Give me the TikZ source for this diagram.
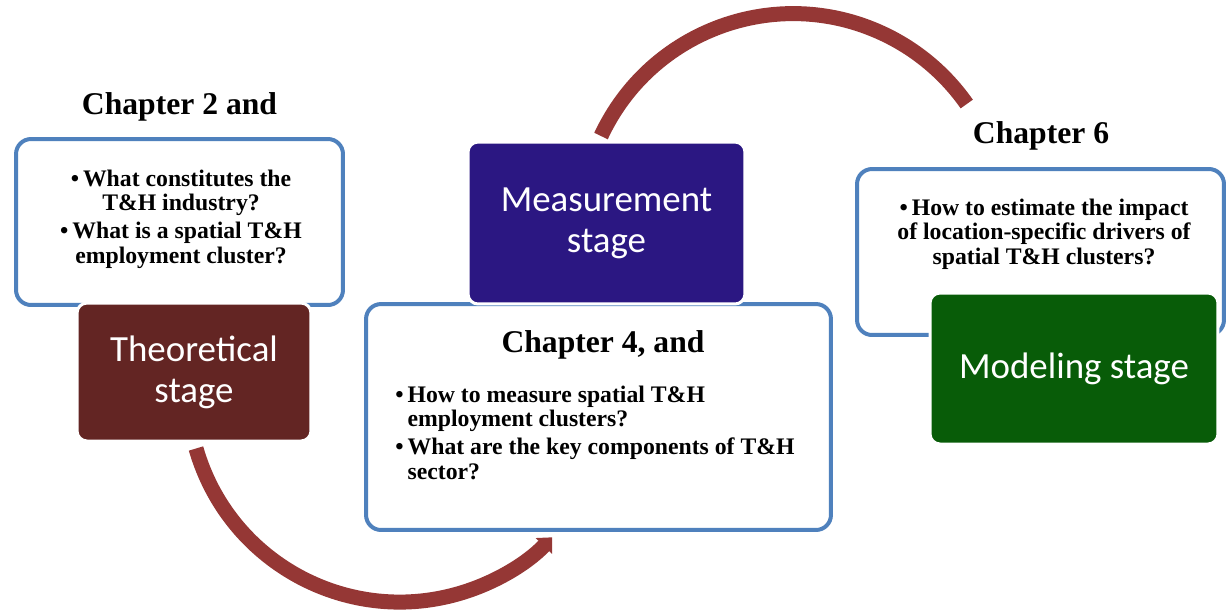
\documentclass[tikz,border=0pt]{standalone}
\usepackage{fontspec}
\setmainfont{Liberation Serif}
\newfontfamily\stagefont{Carlito}
\usetikzlibrary{arrows.meta,positioning,backgrounds}

\definecolor{qblue}{HTML}{4F81BD}
\definecolor{cycred}{HTML}{953735}
\definecolor{theored}{HTML}{632523}
\definecolor{measblue}{HTML}{2B1782}
\definecolor{modgreen}{HTML}{085C08}

\begin{document}
\begin{tikzpicture}[x=0.02cm, y=-0.02cm,
    qbox/.style={draw=qblue, line width=0.08cm, fill=white, rounded corners=0.3cm},
    stagebox/.style={draw=white, line width=0.06cm, rounded corners=0.2cm, text=white,
      font=\stagefont\fontsize{21}{23.2}\selectfont, align=center},
    chap/.style={font=\bfseries\fontsize{18}{21}\selectfont, inner sep=0pt, anchor=base},
    qtext/.style={font=\bfseries\fontsize{13.5}{13.9}\selectfont, inner sep=0pt, anchor=north},
    cyc/.style={draw=cycred, line width=0.3cm}]
  \useasboundingbox (0,0) rectangle (1230,610);

  %% question boxes
  \node[qbox, minimum width=6.54cm, minimum height=3.32cm] (q2) at (179.5,222) {};
  \node[qbox, minimum width=9.30cm, minimum height=4.52cm] (q4) at (598.5,417) {};
  \node[qbox, minimum width=7.34cm, minimum height=3.32cm] (q6) at (1040.5,252) {};

  %% stage boxes, drawn over the question boxes
  \node[stagebox, fill=theored, minimum width=4.68cm, minimum height=2.76cm] (theo) at (194,372) {Theoretical\\stage};
  \node[stagebox, fill=measblue, minimum width=5.54cm, minimum height=3.24cm] (meas) at (606.5,223) {Measurement\\stage};
  \node[stagebox, fill=modgreen, minimum width=5.76cm, minimum height=3.02cm] (model) at (1074,368.5) {Modeling stage};

  %% chapter headings
  \node[chap] (c2) at (179.5,114) {Chapter 2 and};
  \node[chap] (c4) at (603,352) {Chapter 4, and};
  \node[chap] (c6) at (1041,143) {Chapter 6};

  %% questions
  \node[qtext] (t2) at (181,169) {\begin{tabular}{@{}c@{}}
      \textbullet\,What constitutes the\\ T\&H industry?\\[2pt]
      \textbullet\,What is a spatial T\&H\\ employment cluster?\end{tabular}};
  \node[qtext, anchor=north west] (t4) at (395,385) {\begin{tabular}{@{}l@{\,}l@{}}
      \textbullet & How to measure spatial T\&H\\ & employment clusters?\\[2pt]
      \textbullet & What are the key components of T\&H\\ & sector?\end{tabular}};
  \node[qtext] (t6) at (1044,198) {\begin{tabular}{@{}c@{}}
      \textbullet\,How to estimate the impact\\ of location-specific drivers of\\
      spatial T\&H clusters?\end{tabular}};

  %% the cycle arcs, behind everything
  \begin{scope}[on background layer]
    \draw[cyc, -{Triangle[length=0.24cm, width=0.44cm]}] ([xshift=0.04cm, yshift=-0.12cm]theo.south)
      arc[start angle=196, end angle=316, radius=4.24cm];
    \draw[cyc] ([xshift=-0.11cm, yshift=0.09cm]meas.north)
      arc[start angle=155, end angle=35, radius=4.24cm];
  \end{scope}
\end{tikzpicture}
\end{document}
